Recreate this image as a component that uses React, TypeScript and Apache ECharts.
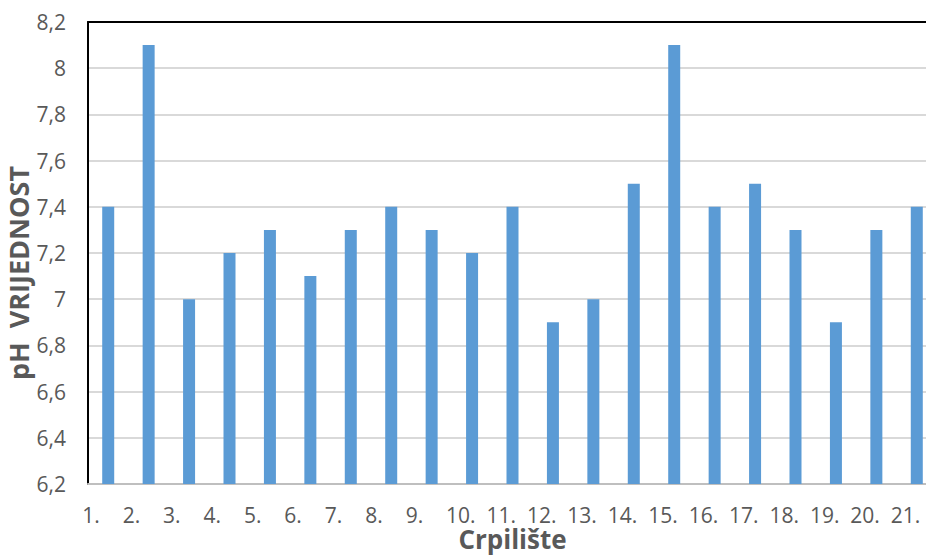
import React, { useEffect, useRef } from "react";
import * as echarts from "echarts";

const categories = ["1.", "2.", "3.", "4.", "5.", "6.", "7.", "8.", "9.", "10.", "11.", "12.", "13.", "14.", "15.", "16.", "17.", "18.", "19.", "20.", "21."];
const phValues = [7.4, 8.1, 7.0, 7.2, 7.3, 7.1, 7.3, 7.4, 7.3, 7.2, 7.4, 6.9, 7.0, 7.5, 8.1, 7.4, 7.5, 7.3, 6.9, 7.3, 7.4];
const yMin = 6.2;
const yMax = 8.2;
const yStep = 0.2;

export default function App() {
  const ref = useRef<HTMLDivElement>(null);
  useEffect(() => {
    if (!ref.current) return;
    const chart = echarts.init(ref.current, null, { renderer: "svg" });
    const font = "'Open Sans', 'Noto Sans', sans-serif";
    chart.setOption({
      animation: false,
      grid: { left: 88, top: 22, width: 849, height: 462, containLabel: false, outerBoundsMode: "none" },
      xAxis: [
        {
          type: "category",
          data: categories,
          name: "Crpilište",
          nameLocation: "middle",
          nameGap: 42,
          nameMoveOverlap: false,
          nameTextStyle: { fontFamily: font, fontSize: 26, lineHeight: 26, fontWeight: "bold", color: "#595959" },
          axisLine: { show: true, lineStyle: { color: "#bfbfbf", width: 2 } },
          axisTick: { show: false },
          axisLabel: {
            interval: 0,
            margin: 20,
            color: "#595959",
            fontFamily: font,
            fontSize: 21,
            lineHeight: 21,
            formatter: (v: string) => "{a|" + v + "}",
            rich: { a: { width: 52, align: "left", fontFamily: font, fontSize: 21, lineHeight: 21, color: "#595959" } },
          },
        },
        {
          type: "category",
          data: categories,
          position: "top",
          axisLine: { show: true, lineStyle: { color: "#000000", width: 2 } },
          axisTick: { show: false },
          axisLabel: { show: false },
        },
      ],
      yAxis: {
        type: "value",
        min: yMin,
        max: yMax,
        interval: yStep,
        name: "pH  VRIJEDNOST",
        nameLocation: "middle",
        nameGap: 56,
        nameMoveOverlap: false,
        nameTextStyle: { fontFamily: font, fontSize: 27, lineHeight: 27, fontWeight: "bold", color: "#595959", padding: [0, 40, 0, 0] },
        axisLine: { show: true, lineStyle: { color: "#000000", width: 2 } },
        axisTick: { show: false },
        splitLine: { lineStyle: { color: "#d9d9d9", width: 2 } },
        axisLabel: {
          margin: 22,
          color: "#595959",
          fontFamily: font,
          fontSize: 21,
          formatter: (v: number) => String(Math.round(v * 10) / 10).replace(".", ","),
        },
      },
      series: [
        {
          type: "bar",
          data: phValues,
          barWidth: 12,
          itemStyle: { color: "#5b9bd5" },
        },
      ],
    });
    return () => chart.dispose();
  }, []);
  return <div ref={ref} style={{ position: "fixed", left: 0, top: 0, width: 926, height: 555, background: "#fff" }} />;
}
